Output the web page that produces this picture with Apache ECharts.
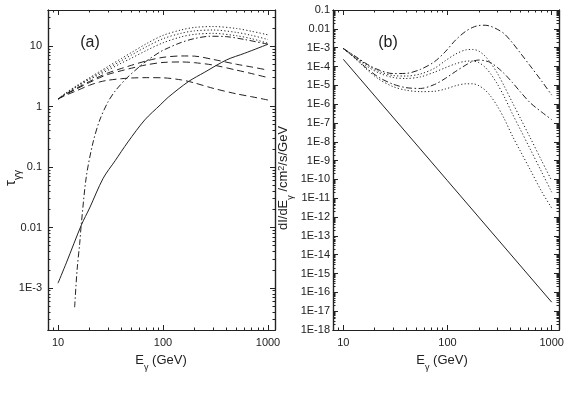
<!DOCTYPE html>
<html>
<head>
<meta charset="utf-8">
<script src="https://cdn.jsdelivr.net/npm/echarts@6/dist/echarts.min.js"></script>
<style>
html, body { margin: 0; padding: 0; background: #fff; }
#chart { width: 566px; height: 394px; }
</style>
</head>
<body>
<div id="chart"></div>
<script>
// ---- data, panel (a): optical depth ----
var eA = [10, 12, 15, 20, 25, 30, 40, 50, 70, 100, 150, 200, 300, 500, 700, 1000];
var tauDashLow = [1.33, 1.55, 1.82, 2.25, 2.55, 2.72, 2.88, 2.96, 3.0, 2.98, 2.75, 2.45, 2.0, 1.62, 1.45, 1.28];
var tauDashMid = [1.33, 1.6, 1.95, 2.5, 3.0, 3.4, 3.9, 4.3, 4.9, 5.35, 5.45, 5.3, 4.85, 4.0, 3.5, 3.0];
var tauDashTop = [1.33, 1.62, 2.0, 2.6, 3.15, 3.6, 4.25, 4.8, 5.7, 6.5, 6.85, 6.8, 6.0, 5.0, 4.5, 4.0];
var tauDotLow = [1.33, 1.65, 2.1, 2.8, 3.4, 4.0, 5.2, 6.3, 8.5, 11.3, 14.2, 15.6, 16.2, 14.8, 13.2, 11.1];
var tauDotMid = [1.33, 1.68, 2.15, 2.9, 3.6, 4.3, 5.7, 7.1, 9.8, 13.2, 16.3, 17.8, 18.4, 16.8, 15.0, 12.8];
var tauDotTop = [1.33, 1.7, 2.2, 3.0, 3.8, 4.6, 6.2, 7.8, 11.0, 15.0, 18.5, 20.3, 21.0, 19.5, 17.5, 15.3];
var eDashDotA = [14.4, 15.2, 16.1, 16.7, 18.6, 21.5, 25, 30, 35, 45, 60, 72, 94, 112, 150, 200, 280, 400, 600, 1000];
var tauDashDot = [4.8e-4, 2e-3, 5.5e-3, 0.0118, 0.069, 0.25, 0.6, 1.2, 1.8, 2.93, 4.6, 5.9, 8.0, 9.3, 11.5, 13.3, 14.5, 14.3, 12.8, 10.7];
var eSolidA = [10, 12, 16.7, 20, 26.9, 35, 46.4, 67, 94, 112, 174, 250, 403, 600, 1000];
var tauSolid = [1.2e-3, 2.6e-3, 0.011, 0.021, 0.065, 0.127, 0.26, 0.6, 1.06, 1.42, 2.57, 3.7, 5.9, 7.6, 10.7];

// ---- data, panel (b): flux ----
var eB = [10, 13, 17, 22, 30, 40, 55, 75, 95, 120, 150, 175, 200, 230, 260, 300, 350, 420, 500, 620, 800, 1000];
var fluxTop = [9e-4, 3.5e-4, 1.3e-4, 6.5e-5, 4.2e-5, 4.3e-5, 7e-5, 1.8e-4, 6e-4, 2.6e-3, 7.5e-3, 1.2e-2, 1.5e-2, 1.55e-2, 1.35e-2, 9.5e-3, 5.5e-3, 1.8e-3, 5.2e-4, 1.1e-4, 1.7e-5, 3e-6];
var fluxDot1 = [9e-4, 3.3e-4, 1.2e-4, 5.5e-5, 3.3e-5, 3.1e-5, 4e-5, 8e-5, 2e-4, 4.6e-4, 7.6e-4, 8e-4, 6.5e-4, 3.5e-4, 1.5e-4, 4.5e-5, 9e-6, 1.2e-6, 1.8e-7, 1.7e-8, 1e-9, 8.5e-11];
var fluxDot2 = [9e-4, 3e-4, 1e-4, 4.5e-5, 2.6e-5, 2.3e-5, 2.8e-5, 5e-5, 8.5e-5, 1.4e-4, 1.9e-4, 1.95e-4, 1.6e-4, 9e-5, 4e-5, 1.2e-5, 2.5e-6, 3e-7, 4.5e-8, 4.2e-9, 2.5e-10, 2.1e-11];
var fluxDashDot = [9e-4, 2.8e-4, 7.5e-5, 2.6e-5, 1.15e-5, 7.5e-6, 6.8e-6, 1.1e-5, 2.3e-5, 5.5e-5, 1.2e-4, 1.9e-4, 2.2e-4, 2e-4, 1.6e-4, 9e-5, 4.2e-5, 1.4e-5, 4.5e-6, 1.2e-6, 3.8e-7, 1.5e-7];
var fluxDot3 = [9e-4, 2.6e-4, 6.5e-5, 2.1e-5, 8.5e-6, 5.5e-6, 4.6e-6, 4.8e-6, 6.3e-6, 9.5e-6, 1.2e-5, 1.2e-5, 9.5e-6, 5.5e-6, 2.6e-6, 8e-7, 1.7e-7, 2e-8, 3.2e-9, 3.4e-10, 2.3e-11, 3e-12];
var eSolidB = [10, 100, 1000];
var fluxSolid = [2.4e-4, 8.5e-11, 3e-17];

// ---- tick labels ----
var xTicks = [10, 100, 1000];
var xLabels = ['10', '100', '1000'];
var yTicksA = [1e-3, 1e-2, 0.1, 1, 10];
var yLabelsA = ['1E-3', '0.01', '0.1', '1', '10'];
var yTicksB = [1e-18, 1e-17, 1e-16, 1e-15, 1e-14, 1e-13, 1e-12, 1e-11, 1e-10, 1e-9, 1e-8, 1e-7, 1e-6, 1e-5, 1e-4, 1e-3, 1e-2, 0.1];
var yLabelsB = ['1E-18', '1E-17', '1E-16', '1E-15', '1E-14', '1E-13', '1E-12', '1E-11', '1E-10', '1E-9', '1E-8', '1E-7', '1E-6', '1E-5', '1E-4', '1E-3', '0.01', '0.1'];

var ink = '#222';
var fontFam = '"Liberation Sans", Arial, sans-serif';

// minor ticks 2..9 for each decade between lo and hi exponents
function minorTicks(loExp, hiExp) {
	var out = [];
	for (var p = loExp; p <= hiExp; p++) {
		for (var k = 2; k <= 9; k++) {
			out.push(Number((k * Math.pow(10, p)).toPrecision(3)));
		}
	}
	return out;
}

function labelOf(ticks, labels) {
	return function (v) {
		for (var i = 0; i < ticks.length; i++) {
			if (Math.abs(Math.log10(v) - Math.log10(ticks[i])) < 1e-6) return labels[i];
		}
		return '';
	};
}

// four axes per side: main (labels + major ticks), minor ticks, mirror major, mirror minor
function axisSet(dim, gi, min, max, major, minor, labels, margin) {
	var posA = dim === 'x' ? 'bottom' : 'left';
	var posB = dim === 'x' ? 'top' : 'right';
	function base(pos, ticks, len, showLabel) {
		var ax = {
			type: 'log',
			gridIndex: gi,
			position: pos,
			min: min,
			max: max,
			logBase: 10,
			z: 5,
			axisLine: { show: true, onZero: false, lineStyle: { color: ink, width: 1.2 } },
			splitLine: { show: false },
			splitArea: { show: false },
			minorTick: { show: false },
			axisTick: { show: true, inside: true, length: len, customValues: ticks, lineStyle: { color: ink, width: 1 } },
			axisLabel: { show: false }
		};
		if (showLabel) {
			ax.axisLabel = {
				show: true,
				customValues: major,
				formatter: labelOf(major, labels),
				margin: margin,
				fontSize: 11,
				fontFamily: fontFam,
				color: ink,
				showMinLabel: true,
				showMaxLabel: true,
				hideOverlap: false
			};
		}
		return ax;
	}
	return [
		base(posA, major, 5, true),
		base(posA, minor, 2.5, false),
		base(posB, major, 5, false),
		base(posB, minor, 2.5, false)
	];
}

var xMinorA = minorTicks(0, 2);
var yMinorA = minorTicks(-4, 1);
var yMinorB = minorTicks(-18, -2);

var xAxes = [].concat(
	axisSet('x', 0, 8.03, 1166, xTicks, xMinorA, xLabels, 7),
	axisSet('x', 1, 7.96, 1175, xTicks, xMinorA, xLabels, 7)
);
var yAxes = [].concat(
	axisSet('y', 0, 2.02e-4, 39.4, yTicksA, yMinorA, yLabelsA, 6),
	axisSet('y', 1, 1e-18, 0.1, yTicksB, yMinorB, yLabelsB, 3)
);

function pairs(xs, ys) {
	return xs.map(function (x, i) { return [x, ys[i]]; });
}

var dashed = [7, 4];
var dotted = [1.2, 2.2];
var dashDot = [6, 2.5, 1.5, 2.5];

function curve(panel, xs, ys, dash, smooth) {
	var idx = panel === 0 ? 0 : 4;
	return {
		type: 'line',
		xAxisIndex: idx,
		yAxisIndex: idx,
		data: pairs(xs, ys),
		showSymbol: false,
		symbol: 'none',
		smooth: smooth,
		silent: true,
		lineStyle: { color: ink, width: 1, type: dash }
	};
}

// axis titles with sub/superscripts
var richT = {
	n: { fontSize: 13, lineHeight: 18, verticalAlign: 'top', fontFamily: fontFam, fill: ink, color: ink },
	s: { fontSize: 9, lineHeight: 9, verticalAlign: 'bottom', fontFamily: fontFam, fill: ink, color: ink },
	p: { fontSize: 9, lineHeight: 9, verticalAlign: 'top', fontFamily: fontFam, fill: ink, color: ink },
	t: { fontSize: 15, lineHeight: 20, verticalAlign: 'top', fontFamily: fontFam, fill: ink, color: ink },
	u: { fontSize: 10, lineHeight: 10, verticalAlign: 'bottom', fontFamily: fontFam, fill: ink, color: ink }
};
function title(x, y, text, rot) {
	return {
		type: 'text', x: x, y: y, rotation: rot || 0, silent: true,
		style: { text: text, rich: richT, fill: ink, align: 'center', verticalAlign: 'middle', textAlign: 'center', textVerticalAlign: 'middle' }
	};
}

var chart = echarts.init(document.getElementById('chart'));
var option = {
	animation: false,
	backgroundColor: '#fff',
	grid: [
		{ left: 48, top: 10, width: 227, height: 320, show: false, outerBoundsMode: 'none' },
		{ left: 333, top: 10, width: 226, height: 320, show: false, outerBoundsMode: 'none' }
	],
	xAxis: xAxes,
	yAxis: yAxes,
	graphic: [
		{ type: 'text', x: 90, y: 43, silent: true, style: { text: '(a)', fill: ink, font: '16px ' + fontFam, align: 'center', verticalAlign: 'middle', textAlign: 'center', textVerticalAlign: 'middle' } },
		{ type: 'text', x: 388, y: 43, silent: true, style: { text: '(b)', fill: ink, font: '16px ' + fontFam, align: 'center', verticalAlign: 'middle', textAlign: 'center', textVerticalAlign: 'middle' } },
		title(161, 363, '{n|E}{s|γ}{n| (GeV)}', 0),
		title(442, 363, '{n|E}{s|γ}{n| (GeV)}', 0),
		title(13, 178, '{t|τ}{u|γγ}', Math.PI / 2),
		title(286, 178, '{n|dI/dE}{s|γ}{n| /cm}{p|2}{n|/s/GeV}', Math.PI / 2)
	],
	series: [
		curve(0, eA, tauDashLow, dashed, 0.3),
		curve(0, eA, tauDashMid, dashed, 0.3),
		curve(0, eA, tauDashTop, dashed, 0.3),
		curve(0, eA, tauDotLow, dotted, 0.3),
		curve(0, eA, tauDotMid, dotted, 0.3),
		curve(0, eA, tauDotTop, dotted, 0.3),
		curve(0, eDashDotA, tauDashDot, dashDot, 0.3),
		curve(0, eSolidA, tauSolid, 'solid', 0.3),
		curve(1, eB, fluxTop, dashDot, 0.3),
		curve(1, eB, fluxDot1, dotted, 0.3),
		curve(1, eB, fluxDot2, dotted, 0.3),
		curve(1, eB, fluxDashDot, dashDot, 0.3),
		curve(1, eB, fluxDot3, dotted, 0.3),
		curve(1, eSolidB, fluxSolid, 'solid', false)
	]
};
chart.setOption(option);
</script>
</body>
</html>
